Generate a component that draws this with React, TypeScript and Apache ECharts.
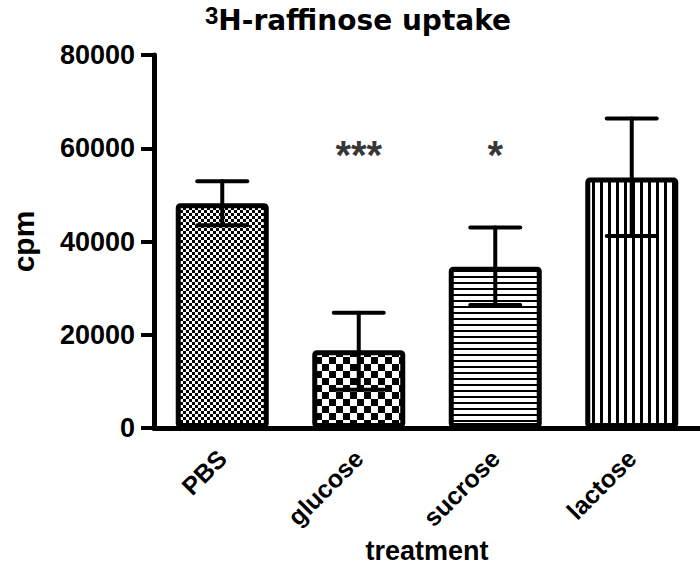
import React, { useEffect, useRef } from "react";
import * as echarts from "echarts";

const categories = ["PBS", "glucose", "sucrose", "lactose"];
const means = [48200, 16700, 34600, 53700];
const errLow = [43500, 8200, 26400, 41200];
const errHigh = [52900, 24700, 43000, 66400];
const significance = ["", "***", "*", ""];
const sigLevel = 58500;
const yTicks = { min: 0, max: 80000, interval: 20000 };
const patternKinds = ["fineChecker", "coarseChecker", "hlines", "vlines"];

function makePattern(kind: string) {
  const c = document.createElement("canvas");
  let w = 6, h = 6;
  if (kind === "fineChecker") { w = 6; h = 6; }
  else if (kind === "coarseChecker") { w = 14; h = 14; }
  else if (kind === "hlines") { w = 8; h = 6; }
  else { w = 8; h = 8; }
  c.width = w; c.height = h;
  const ctx = c.getContext("2d")!;
  ctx.fillStyle = "#fff";
  ctx.fillRect(0, 0, w, h);
  ctx.fillStyle = "#000";
  if (kind === "fineChecker") {
    ctx.fillRect(0, 0, 3, 3);
    ctx.fillRect(3, 3, 3, 3);
  } else if (kind === "coarseChecker") {
    ctx.fillRect(0, 0, 7, 7);
    ctx.fillRect(7, 7, 7, 7);
  } else if (kind === "hlines") {
    ctx.fillRect(0, 0, w, 2);
  } else {
    ctx.fillRect(0, 0, 3, h);
  }
  return { image: c, repeat: "repeat", imageWidth: w, imageHeight: h };
}

export default function App() {
  const ref = useRef<HTMLDivElement>(null);
  useEffect(() => {
    const chart = echarts.init(ref.current!, undefined, { renderer: "svg" });
    const font = "Liberation Sans, Arial, Helvetica, sans-serif";
    const barData = means.map((v, i) => ({
      value: v,
      itemStyle: { color: makePattern(patternKinds[i]) as any },
    }));
    chart.setOption({
      animation: false,
      backgroundColor: "#fff",
      title: {
        text: "{sup|3}{main|H-raffinose uptake}",
        left: 205,
        top: 3,
        padding: 0,
        textStyle: {
          rich: {
            sup: { fontFamily: font, fontWeight: "bold", fontSize: 24, color: "#000", verticalAlign: "top", lineHeight: 34 },
            main: { fontFamily: "DejaVu Sans, sans-serif", fontWeight: "bold", fontSize: 28, color: "#000", lineHeight: 34 },
          },
        },
      },
      grid: { left: 142, right: 0, top: 55, bottom: 153 },
      xAxis: {
        type: "category",
        data: categories,
        axisLine: { lineStyle: { color: "#000", width: 5 } },
        axisTick: { alignWithLabel: true, length: 13, lineStyle: { color: "#000", width: 4 } },
        axisLabel: {
          rotate: 45,
          margin: 26,
          color: "#000",
          fontFamily: font,
          fontWeight: "bold",
          fontSize: 25,
        },
        name: "treatment",
        nameLocation: "middle",
        nameGap: 104,
        nameTextStyle: { fontFamily: font, fontWeight: "bold", fontSize: 27, color: "#000" },
      },
      yAxis: {
        type: "value",
        min: yTicks.min,
        max: yTicks.max,
        interval: yTicks.interval,
        splitLine: { show: false },
        axisLine: { show: true, lineStyle: { color: "#000", width: 5 } },
        axisTick: { show: true, length: 13, lineStyle: { color: "#000", width: 4 } },
        axisLabel: {
          margin: 19,
          color: "#000",
          fontFamily: font,
          fontWeight: "bold",
          fontSize: 27,
          formatter: (v: number) => String(v),
        },
        name: "cpm",
        nameLocation: "middle",
        nameGap: 116,
        nameTextStyle: { fontFamily: font, fontWeight: "bold", fontSize: 30, color: "#000" },
      },
      series: [
        {
          type: "bar",
          data: barData,
          barWidth: 93,
          itemStyle: { borderColor: "#000", borderWidth: 5, borderRadius: 2 },
          z: 2,
        },
        {
          type: "custom",
          z: 3,
          data: categories.map((_, i) => [i, errLow[i], errHigh[i]]),
          renderItem: (params: any, api: any) => {
            const i = api.value(0);
            const lo = api.coord([i, api.value(1)]);
            const hi = api.coord([i, api.value(2)]);
            const half = 25;
            const style = { stroke: "#000", lineWidth: 4, lineCap: "round" };
            return {
              type: "group",
              children: [
                { type: "line", shape: { x1: lo[0], y1: lo[1], x2: hi[0], y2: hi[1] }, style },
                { type: "line", shape: { x1: hi[0] - half, y1: hi[1], x2: hi[0] + half, y2: hi[1] }, style },
                { type: "line", shape: { x1: lo[0] - half, y1: lo[1], x2: lo[0] + half, y2: lo[1] }, style },
              ],
            };
          },
        },
        {
          type: "scatter",
          symbolSize: 0,
          z: 4,
          data: categories.map((_, i) => [i, sigLevel]),
          label: {
            show: true,
            position: "inside",
            formatter: (p: any) => significance[p.dataIndex],
            color: "#000",
            fontFamily: font,
            fontWeight: "bold",
            fontSize: 40,
          },
        },
      ],
    });
    return () => chart.dispose();
  }, []);
  return <div ref={ref} style={{ width: 700, height: 581, position: "absolute", left: 0, top: 0 }} />;
}
